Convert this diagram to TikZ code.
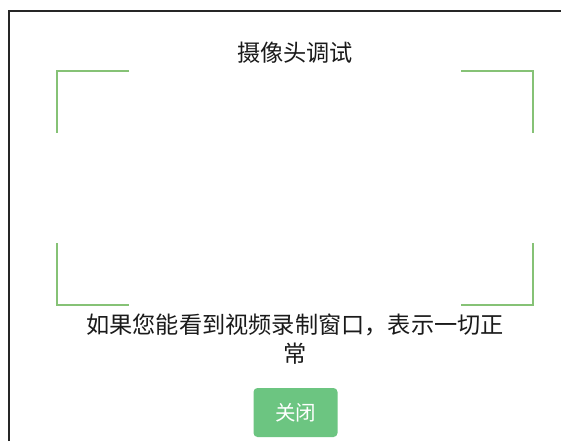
\documentclass[tikz,border=0pt]{standalone}
\usepackage{fontspec}
\newfontfamily\cjk{Noto Sans CJK SC}
\definecolor{brk}{HTML}{86C276}
\definecolor{btn}{HTML}{6CC581}
\definecolor{txt}{HTML}{1A1A1A}
\begin{document}
\begin{tikzpicture}[x=1pt,y=-1pt,
  bracket/.style={draw=brk,line width=2pt,line cap=butt},
  label/.style={font=\cjk\fontsize{23.2}{27}\selectfont,text=txt,inner sep=0pt,anchor=center},
  button/.style={fill=btn,rounded corners=4pt,minimum width=84pt,minimum height=49pt,inner sep=0pt,text=white,font=\cjk\fontsize{20.5}{24}\selectfont}]
\useasboundingbox (0,0) rectangle (561,441);
\fill[white] (0,0) rectangle (561,441);
% frame
\draw[line width=2pt,black!85] (8.5,441) -- (8.5,11) -- (561,11);
% brackets
\draw[bracket] (129,71) -- (57,71) -- (57,133);
\draw[bracket] (461,71) -- (533,71) -- (533,133);
\draw[bracket] (57,243) -- (57,305) -- (129,305);
\draw[bracket] (461,305) -- (533,305) -- (533,243);
% texts
\node[label] (title) at (295,53) {摄像头调试};
\node[label] (msg1) at (295,325) {如果您能看到视频录制窗口，表示一切正};
\node[label] (msg2) at (295,354) {常};
\node[button] (close) at (295.5,412.5) {关闭};
\end{tikzpicture}
\end{document}
